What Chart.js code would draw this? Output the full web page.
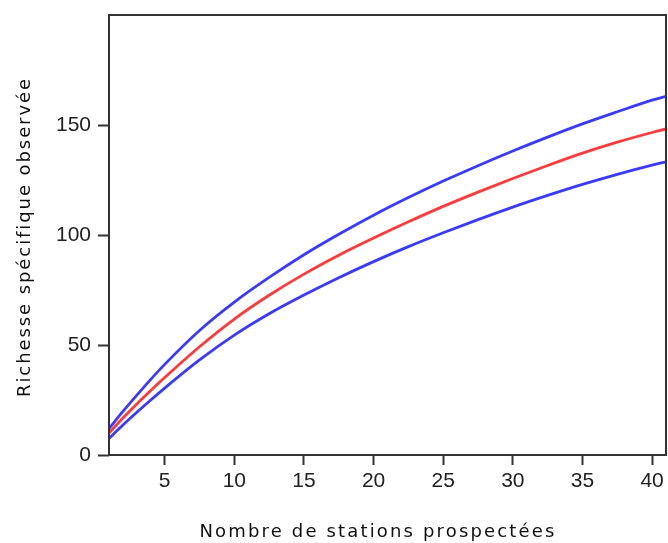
<!DOCTYPE html>
<html>
<head>
<meta charset="utf-8">
<script src="https://cdn.jsdelivr.net/npm/chart.js@4/dist/chart.umd.min.js"></script>
<style>
  html, body { margin: 0; padding: 0; background: #fff; }
  #wrap { width: 668px; height: 543px; }
</style>
</head>
<body>
<div id="wrap"><canvas id="c"></canvas></div>
<script>
var stations = [1, 2, 3, 4, 5, 7.5, 10, 12.5, 15, 17.5, 20, 22.5, 25, 27.5, 30, 32.5, 35, 37.5, 40, 41];
var richness = [10, 16.8, 23.2, 29.3, 35.2, 49.2, 61.8, 72.6, 82.2, 90.8, 98.6, 106, 113, 119.5, 125.7, 131.6, 137.2, 142.2, 146.6, 148.2];
var upperBound = [12, 19.8, 27.2, 34.4, 41.2, 56.6, 69.5, 80.7, 91, 100.3, 109, 117, 124.5, 131.5, 138.2, 144.5, 150.5, 156, 161.3, 163];
var lowerBound = [7.5, 13.6, 19.4, 25, 30.4, 43.2, 54.5, 64.2, 72.7, 80.6, 87.9, 94.7, 101, 107, 112.7, 118, 123, 127.6, 131.8, 133.3];

var xTicks = [5, 10, 15, 20, 25, 30, 35, 40];
var yTicks = [0, 50, 100, 150];

var xTitle = 'Nombre de stations prospectées';
var yTitle = 'Richesse spécifique observée';

function pts(ys) {
    return stations.map(function(x, i) { return { x: x, y: ys[i] }; });
}

var frameAndTitles = {
    id: 'frameAndTitles',
    afterDraw: function(chart) {
        var ctx = chart.ctx;
        var a = chart.chartArea;
        ctx.save();
        ctx.strokeStyle = '#333';
        ctx.lineWidth = 2;
        ctx.strokeRect(a.left, a.top, a.right - a.left, a.bottom - a.top);

        // axis titles, spread out like the original
        ctx.fillStyle = '#111';
        ctx.font = '18px "DejaVu Sans"';
        ctx.textAlign = 'center';
        ctx.textBaseline = 'alphabetic';
        var w = ctx.measureText(xTitle).width;
        ctx.letterSpacing = ((357 - w) / xTitle.length) + 'px';
        ctx.fillText(xTitle, 378, 537);

        ctx.letterSpacing = '0px';
        w = ctx.measureText(yTitle).width;
        ctx.letterSpacing = ((320 - w) / yTitle.length) + 'px';
        ctx.translate(30, 237);
        ctx.rotate(-Math.PI / 2);
        ctx.fillText(yTitle, 0, 0);
        ctx.restore();
    }
};

new Chart(document.getElementById('c'), {
    type: 'line',
    data: {
        datasets: [
            { data: pts(upperBound), borderColor: '#3a3aff', borderWidth: 2.8 },
            { data: pts(lowerBound), borderColor: '#3a3aff', borderWidth: 2.8 },
            { data: pts(richness), borderColor: '#ff3a3a', borderWidth: 2.8 }
        ]
    },
    options: {
        responsive: true,
        maintainAspectRatio: false,
        animation: false,
        layout: { padding: { top: 15, right: 2, left: 0, bottom: 0 } },
        elements: {
            point: { radius: 0 },
            line: { cubicInterpolationMode: 'monotone', fill: false }
        },
        plugins: {
            legend: { display: false },
            tooltip: { enabled: false }
        },
        scales: {
            x: {
                type: 'linear',
                min: 1,
                max: 41,
                afterBuildTicks: function(s) { s.ticks = xTicks.map(function(v) { return { value: v }; }); },
                afterFit: function(s) { s.height = 88; },
                grid: { drawOnChartArea: false, drawTicks: true, tickLength: 10, tickColor: '#333', tickWidth: 2 },
                border: { display: false },
                ticks: { font: { family: '"Liberation Sans", Arial', size: 21 }, color: '#222', padding: 4, maxRotation: 0 }
            },
            y: {
                min: 0,
                max: 200,
                afterBuildTicks: function(s) { s.ticks = yTicks.map(function(v) { return { value: v }; }); },
                afterFit: function(s) { s.width = 109; s.paddingTop = 0; },
                grid: { drawOnChartArea: false, drawTicks: true, tickLength: 11, tickColor: '#333', tickWidth: 2 },
                border: { display: false },
                ticks: { font: { family: '"Liberation Sans", Arial', size: 21, lineHeight: 0.6 }, color: '#222', padding: 7 }
            }
        }
    },
    plugins: [frameAndTitles]
});
</script>
</body>
</html>
